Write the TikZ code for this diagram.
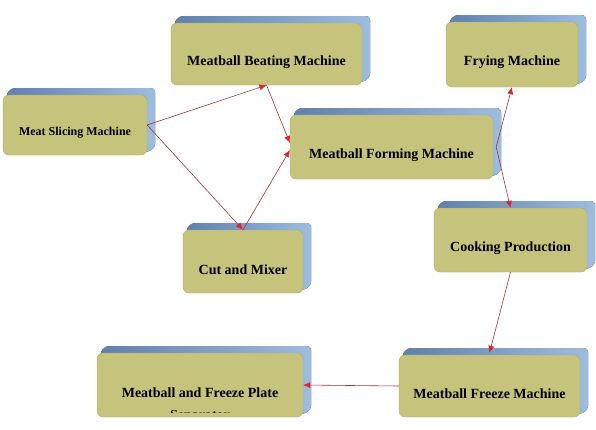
\documentclass[tikz,border=0pt]{standalone}
\usepackage{fontspec}
\setmainfont{Liberation Serif}
\usetikzlibrary{fit,arrows.meta}
\definecolor{olive}{HTML}{C6C47C}
\definecolor{blueA}{HTML}{5F80AA}
\definecolor{blueB}{HTML}{9DBDE0}
\definecolor{arrred}{HTML}{A8303A}
\definecolor{tipred}{HTML}{E0202A}
\tikzset{
  backface/.style={left color=blueA,right color=blueB,rounded corners=4pt},
  frontface/.style={fill=olive,draw=olive!85!black,line width=0.3pt,rounded corners=6pt,inner sep=0pt},
  boxtext/.style={font=\bfseries\fontsize{14}{16}\selectfont,inner sep=0pt},
  smalltext/.style={font=\bfseries\fontsize{12}{14}\selectfont,inner sep=0pt},
  arr/.style={draw=arrred,line width=0.6pt,-{Latex[length=7pt,width=6pt,color=tipred]}},
}
\newcommand\machine[7]{%
  \fill[backface] (#2+2,#3+2) -- (#2+8,#3-7) -- (#4+8,#3-7) -- (#4+8,#5-7) -- (#4-2,#5-2) -- cycle;
  \node[frontface,fit={(#2,#3) (#4,#5)}] (#1) {};
  \node[#6] (#1-t) at ([yshift=-8pt]#1.center) {#7};
}
\begin{document}
\begin{tikzpicture}[x=1pt,y=-1pt]
\useasboundingbox (0,0) rectangle (596,429);
\fill[white] (0,0) rectangle (596,429);
\machine{slice}{3}{95}{147}{155}{smalltext}{Meat Slicing Machine}
\machine{beat}{171}{23}{362}{85}{boxtext}{Meatball Beating Machine}
\machine{form}{290}{115}{493}{179}{boxtext}{Meatball Forming Machine}
\machine{fry}{446}{22}{578}{87}{boxtext}{Frying Machine}
\machine{cut}{183}{230}{303}{293}{boxtext}{Cut and Mixer}
\machine{cook}{434}{208}{587}{272}{boxtext}{Cooking Production}
\machine{freeze}{399}{355}{580}{417}{boxtext}{Meatball Freeze Machine}
\machine{plate}{97}{353}{303}{417}{boxtext}{Meatball and Freeze Plate}
\begin{scope}
  \clip (97,410) rectangle (303,412);
  \node[boxtext,anchor=north] (plate-t2) at ([yshift=-25pt]plate.center) {Separator};
\end{scope}
\draw[arr] (slice.east) -- (beat.south);
\draw[arr] (slice.east) -- (cut.north);
\draw[arr] (beat.south) -- ([yshift=4pt]form.west);
\draw[arr] (cut.north) -- ([yshift=-3pt]form.west);
\draw[arr] ([xshift=3pt]form.east) -- (fry.south);
\draw[arr] ([xshift=3pt]form.east) -- (cook.north);
\draw[arr] (cook.south) -- ([yshift=2pt]freeze.north);
\draw[arr] (freeze.west) -- (plate.east);
\end{tikzpicture}
\end{document}
